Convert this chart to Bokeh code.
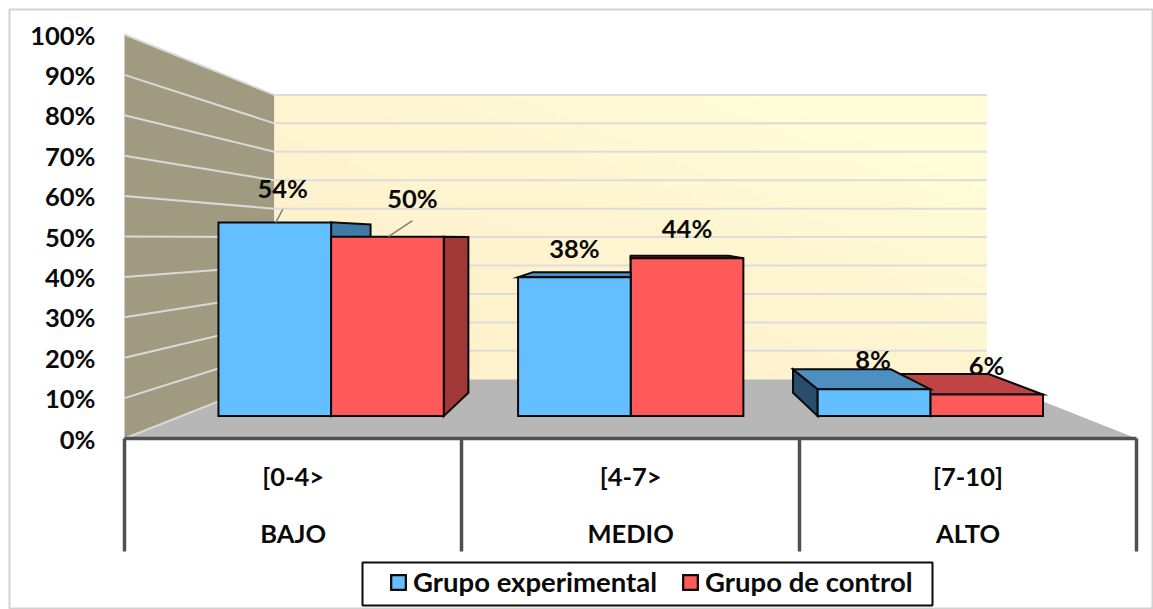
from bokeh.plotting import figure
from bokeh.models import LinearAxis, FixedTicker, ColumnDataSource, Range1d
from bokeh.embed import file_html
from bokeh.resources import INLINE
from bokeh.core.properties import value
import numpy as np

# ---- data ----
bands = ["[0-4>", "[4-7>", "[7-10]"]
levels = ["BAJO", "MEDIO", "ALTO"]
experimental = [54, 38.7, 7.5]
control = [50, 44, 6]
experimental_labels = ["54%", "38%", "8%"]
control_labels = ["50%", "44%", "6%"]
y_ticks = [0, 10, 20, 30, 40, 50, 60, 70, 80, 90, 100]
y_tick_labels = ["0%", "10%", "20%", "30%", "40%", "50%", "60%", "70%", "80%", "90%", "100%"]

# ---- layout ----
FONT = "Lato"
W, H = 1153, 609
PX_X = 337.4    # pixels per category on the front plane
PX_Y = 4.04     # pixels per percent on the front plane
ORG_X, ORG_Y = 124.0, 438.0  # page position of the chart origin
LEFT, TOP, RIGHT, BOTTOM = 9, 9, 1152, 609

# perspective: vanishing point and depth scales
VP_X, VP_V = 1.5, 49.5
S_FRONT, S_BACK = 1.0, 0.704   # floor edge and back wall
S_BAR_F, S_BAR_B = 0.888, 0.771 # bar front and bar back
GAP, BAR_W = 0.1244, 0.376


def P(x, v, s):
    return VP_X + s * (x - VP_X), VP_V + s * (v - VP_V)


def poly(points):
    xs, ys = zip(*[P(*q) for q in points])
    return list(xs), list(ys)


def px_x(px):
    return (px - ORG_X) / PX_X


def px_y(px):
    return (ORG_Y - px) / PX_Y


p = figure(width=W, height=H, output_backend="svg", toolbar_location=None,
           x_axis_type=None, y_axis_type=None,
           x_range=Range1d(px_x(LEFT), px_x(RIGHT)),
           y_range=Range1d(px_y(BOTTOM), px_y(TOP)),
           min_border_left=LEFT, min_border_top=TOP, min_border_right=W - RIGHT, min_border_bottom=H - BOTTOM)
p.grid.visible = False
p.outline_line_color = "#d2d2d2"
p.outline_line_width = 2
p.background_fill_color = "white"
p.border_fill_color = "white"

# ---- walls and floor ----
xs, ys = poly([(0, 0, S_FRONT), (0, 100, S_FRONT), (0, 100, S_BACK), (0, 0, S_BACK)])
p.patch(xs, ys, fill_color="#a09a80", line_color=None)
xs, ys = poly([(0, 0, S_FRONT), (3, 0, S_FRONT), (3, 0, S_BACK), (0, 0, S_BACK)])
p.patch(xs, ys, fill_color="#b7b7b7", line_color=None)

# cream gradient of the back wall
n = 48
grad = np.zeros((n, n), dtype=np.uint32)
view = grad.view(dtype=np.uint8).reshape((n, n, 4))
tx, ty = np.meshgrid(np.linspace(0, 1, n), np.linspace(0, 1, n))
t = (tx * 0.6 + ty * 0.6) ** 2
t = np.clip(t, 0, 1)
view[..., 0] = (254 + 1 * t).astype(np.uint8)
view[..., 1] = (241 + 11 * t).astype(np.uint8)
view[..., 2] = (204 + 12 * t).astype(np.uint8)
view[..., 3] = 255
wx0, wv0 = P(0, 0, S_BACK)
wx1, wv1 = P(3, 100, S_BACK)
p.image_rgba(image=[grad], x=wx0, y=wv0, dw=wx1 - wx0, dh=wv1 - wv0)

# gridlines on both walls
for v in y_ticks:
    xs, ys = poly([(0, v, S_FRONT), (0, v, S_BACK)])
    p.line(xs, ys, line_color="#d9d9d9", line_width=2)
    if v > 0:
        xs, ys = poly([(0, v, S_BACK), (3, v, S_BACK)])
        p.line(xs, ys, line_color="#dcdcdc", line_width=2)

# ---- bars ----
BLUE = dict(front="#63bfff", top="#4b90c0", side="#3f7aa6", side2="#2a4d6b", label="Grupo experimental")
RED = dict(front="#ff5a5a", top="#c04444", side="#a03838", side2="#a03838", label="Grupo de control")
OUT = dict(line_color="#0a0a0a", line_width=2, line_join="miter")

# legend frame, drawn behind the legend's own items
p.quad(left=px_x(362), right=px_x(932), bottom=px_y(605), top=px_y(562),
       fill_color="white", line_color="#0a0a0a", line_width=2)

bars = []
for c in range(3):
    a = c + GAP
    bars.append((abs(a + BAR_W / 2 - VP_X), c, a, experimental[c], BLUE))
    bars.append((abs(a + BAR_W * 1.5 - VP_X), c, a + BAR_W, control[c], RED))
bars.sort(key=lambda b: (b[1], -b[0]))
for _, c, x0, v, col in bars:
    x1 = x0 + BAR_W
    if x1 < VP_X - 1e-6:
        xs, ys = poly([(x1, 0, S_BAR_F), (x1, 0, S_BAR_B), (x1, v, S_BAR_B), (x1, v, S_BAR_F)])
        p.patch(xs, ys, fill_color=col["side"], **OUT)
    if x0 > VP_X + 1e-6:
        xs, ys = poly([(x0, 0, S_BAR_F), (x0, 0, S_BAR_B), (x0, v, S_BAR_B), (x0, v, S_BAR_F)])
        p.patch(xs, ys, fill_color=col["side2"], **OUT)
    if v < VP_V:
        xs, ys = poly([(x0, v, S_BAR_F), (x1, v, S_BAR_F), (x1, v, S_BAR_B), (x0, v, S_BAR_B)])
        p.patch(xs, ys, fill_color=col["top"], **OUT)
    xs, ys = poly([(x0, 0, S_BAR_F), (x1, 0, S_BAR_F), (x1, v, S_BAR_F), (x0, v, S_BAR_F)])
    p.patch(xs, ys, fill_color=col["front"], legend_label=col["label"], **OUT)

# ---- data labels, anchored on the middle of each bar's top front edge ----
lx, ly, lt, ldx, ldy = [], [], [], [], []
offsets_exp = [(8, -34), (0, -29), (-1, -30)]
offsets_ctl = [(25, -39), (0, -30), (0, -30)]
for c in range(3):
    for mid, v, txt, off in ((c + GAP + BAR_W / 2, experimental[c], experimental_labels[c], offsets_exp[c]),
                             (c + GAP + BAR_W * 1.5, control[c], control_labels[c], offsets_ctl[c])):
        x, y = P(mid, v, S_BAR_F)
        lx.append(x); ly.append(y); lt.append(txt); ldx.append(off[0]); ldy.append(off[1])
p.text(x="x", y="y", text="t", x_offset="dx", y_offset="dy",
       source=ColumnDataSource(dict(x=lx, y=ly, t=lt, dx=ldx, dy=ldy)),
       text_font=value(FONT), text_font_style="bold", text_font_size="25.5px",
       text_align="center", text_baseline="middle", text_color="#0a0a0a")

# leader lines for the two labels that are moved away from their bars
for i, (ex, ey) in zip((0, 1), ((8, -13), (25, -16))):
    p.line([lx[i] + 1 / PX_X, lx[i] + ex / PX_X], [ly[i], ly[i] - ey / PX_Y],
           line_color="#808080", line_width=1.5)

# ---- axes ----
y_axis = LinearAxis(ticker=FixedTicker(ticks=y_ticks),
                    major_label_overrides=dict(zip(y_ticks, y_tick_labels)),
                    fixed_location=px_x(105),
                    axis_line_color=None, major_tick_line_color=None, minor_tick_line_color=None,
                    major_label_standoff=4,
                    major_label_text_font=FONT, major_label_text_font_style="bold",
                    major_label_text_font_size="25.5px", major_label_text_color="#0a0a0a")
p.add_layout(y_axis, "left")

sep_axis = LinearAxis(ticker=FixedTicker(ticks=[0, 1, 2, 3]), fixed_location=0,
                      major_label_text_color=None, major_label_text_font_size="1px",
                      axis_line_color="#505050", axis_line_width=3.5,
                      major_tick_line_color="#505050", major_tick_line_width=3.5,
                      major_tick_in=0, major_tick_out=113, minor_tick_line_color=None,
                      bounds=(0, 3))
p.add_layout(sep_axis, "below")

for names, standoff in ((bands, 16), (levels, 73)):
    ax = LinearAxis(ticker=FixedTicker(ticks=[0.5, 1.5, 2.5]), fixed_location=0,
                    major_label_overrides=dict(zip([0.5, 1.5, 2.5], names)),
                    axis_line_color=None, major_tick_line_color=None, minor_tick_line_color=None,
                    major_label_standoff=standoff,
                    major_label_text_font=FONT, major_label_text_font_style="bold",
                    major_label_text_font_size="25.5px", major_label_text_color="#0a0a0a")
    p.add_layout(ax, "below")

# ---- legend ----
lg = p.legend[0]
lg.orientation = "horizontal"
lg.location = (380, 11)
lg.margin = 0
lg.padding = 5
lg.spacing = 24
lg.glyph_width = 18
lg.glyph_height = 18
lg.label_standoff = 6
lg.border_line_color = None
lg.background_fill_alpha = 0
lg.label_text_font = FONT
lg.label_text_font_style = "bold"
lg.label_text_font_size = "27.5px"
lg.label_text_color = "#0a0a0a"

open("out.html", "w").write(file_html(p, INLINE))
